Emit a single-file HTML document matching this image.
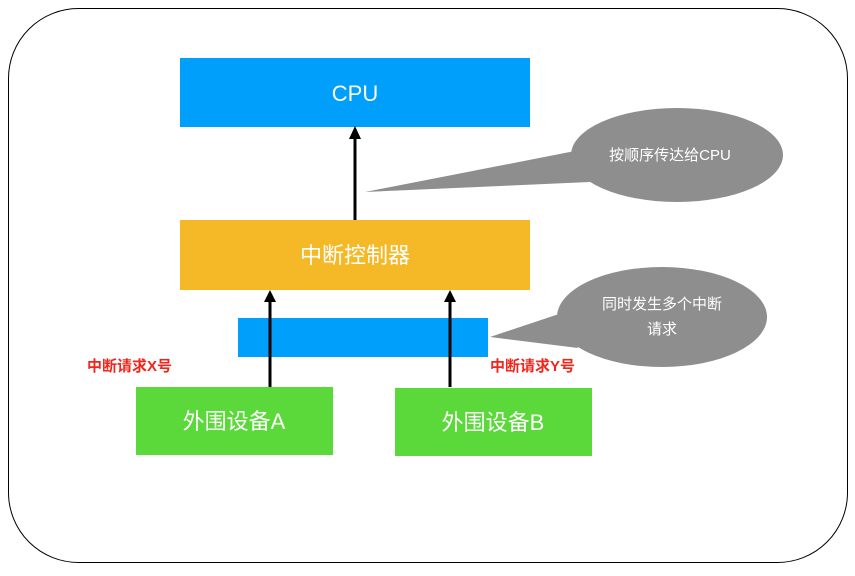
<!DOCTYPE html>
<html><head><meta charset="utf-8"><style>
body{margin:0;background:#fff;}
svg text{font-family:"Liberation Sans","Noto Sans CJK SC",sans-serif;}
</style></head><body>
<svg width="855" height="571" viewBox="0 0 855 571" xmlns="http://www.w3.org/2000/svg">
<rect x="8.5" y="8.5" width="839" height="554" rx="70" fill="#fff" stroke="#000" stroke-width="1"/>
<rect x="180" y="58" width="350" height="69" fill="#009FFC"/>
<text x="355" y="101" fill="#fff" font-size="22" text-anchor="middle">CPU</text>
<rect x="180" y="220" width="350" height="70" fill="#F5B927"/>
<text x="355" y="263" fill="#fff" font-size="22" text-anchor="middle">中断控制器</text>
<rect x="238" y="318" width="250" height="39" fill="#009FFC"/>
<rect x="136" y="387" width="197" height="68" fill="#5BD83A"/>
<text x="234" y="429" fill="#fff" font-size="22" text-anchor="middle">外围设备A</text>
<rect x="395" y="388" width="197" height="68" fill="#5BD83A"/>
<text x="493" y="430" fill="#fff" font-size="22" text-anchor="middle">外围设备B</text>
<g stroke="#000" stroke-width="3">
<line x1="355" y1="220" x2="355" y2="137"/>
<line x1="270" y1="387" x2="270" y2="300"/>
<line x1="450" y1="387" x2="450" y2="300"/>
</g>
<g fill="#000">
<polygon points="355,126 349,139 361,139"/>
<polygon points="270,290 264,302 276,302"/>
<polygon points="450,290 444,302 456,302"/>
</g>
<text x="87" y="371" fill="#F0261C" font-size="15" font-weight="bold">中断请求X号</text>
<text x="490" y="371" fill="#F0261C" font-size="15" font-weight="bold">中断请求Y号</text>
<g fill="#8E8E8E">
<ellipse cx="677" cy="155" rx="106" ry="47"/>
<polygon points="365,192 580,150 590,182"/>
<ellipse cx="662" cy="317" rx="105" ry="50"/>
<polygon points="490,337 565,312 578,348"/>
</g>
<text x="670" y="160" fill="#fff" font-size="15" text-anchor="middle">按顺序传达给CPU</text>
<text x="662" y="309" fill="#fff" font-size="15" text-anchor="middle">同时发生多个中断</text>
<text x="662" y="334" fill="#fff" font-size="15" text-anchor="middle">请求</text>
</svg>
</body></html>
